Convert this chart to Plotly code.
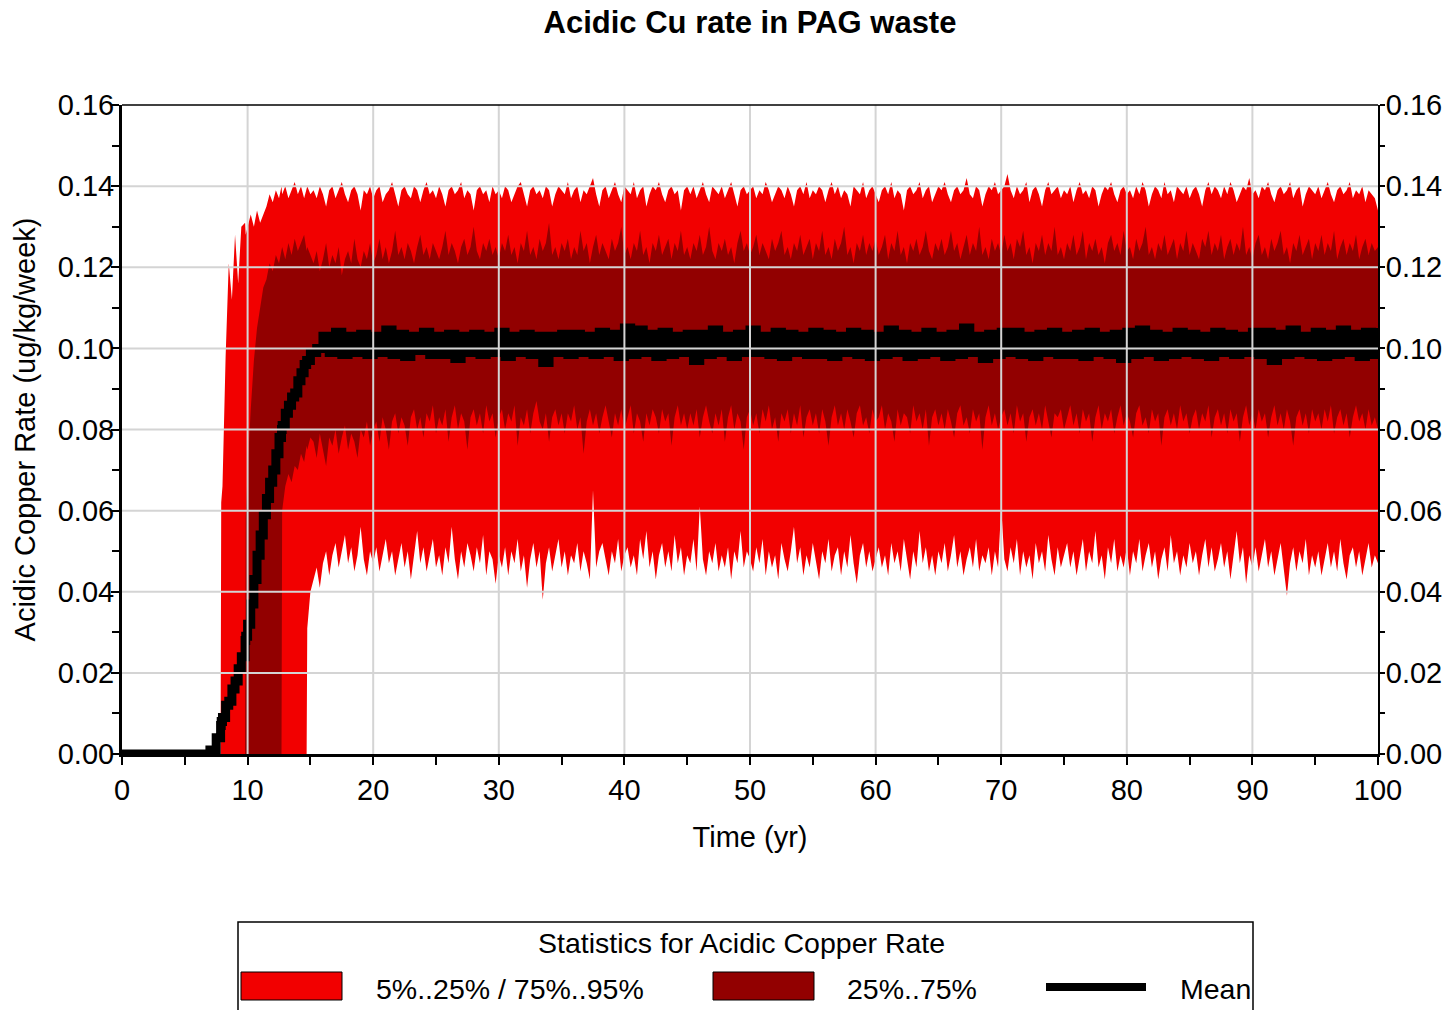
import plotly.graph_objects as go

# ---------------- text ----------------
TITLE = "Acidic Cu rate in PAG waste"
X_TITLE = "Time (yr)"
Y_TITLE = "Acidic Copper Rate (ug/kg/week)"
LEGEND_TITLE = "Statistics for Acidic Copper Rate"
LEGEND_LABELS = ["5%..25% / 75%..95%", "25%..75%", "Mean"]

X_TICKS = [0, 10, 20, 30, 40, 50, 60, 70, 80, 90, 100]
Y_TICKS = [0.00, 0.02, 0.04, 0.06, 0.08, 0.10, 0.12, 0.14, 0.16]

# ---------------- data: ramp-up period (0 - 15 yr) ----------------
TIME_EARLY = [0, 1, 2, 3, 4, 5, 6, 6.5, 7, 7.5, 7.85, 7.9, 8.0, 8.25, 8.5, 8.75,
              9.0, 9.25, 9.5, 9.8, 9.85, 10.0, 10.25, 10.5, 10.75, 11.0, 11.25,
              11.5, 11.75, 12.0, 12.25, 12.5, 12.7, 12.75, 13.0, 13.25, 13.5,
              13.75, 14.0, 14.25, 14.5, 14.7, 14.75, 15.0]

P95_EARLY = [0.0] * 11 + [0.062, 0.066, 0.098, 0.121, 0.112, 0.128, 0.116, 0.130, 0.131,
                          0.128, 0.130, 0.133, 0.130, 0.134, 0.131, 0.133, 0.135, 0.138,
                          0.136, 0.139, 0.137, 0.140, 0.138, 0.140, 0.137, 0.139, 0.141,
                          0.138, 0.140, 0.137, 0.139, 0.140, 0.138]
P75_EARLY = [0.0] * 20 + [0.058, 0.070, 0.085, 0.097, 0.105, 0.110, 0.115, 0.117, 0.121,
                          0.119, 0.123, 0.121, 0.124, 0.125, 0.122, 0.126, 0.123, 0.127,
                          0.124, 0.126, 0.128, 0.124, 0.125, 0.123]
MEAN_EARLY = [0.0] * 8 + [0.001, 0.004, 0.007, 0.008, 0.009, 0.012, 0.013, 0.016, 0.018,
                          0.021, 0.024, 0.028, 0.029, 0.032, 0.037, 0.043, 0.049, 0.054,
                          0.059, 0.063, 0.067, 0.070, 0.074, 0.078, 0.080, 0.081, 0.084,
                          0.086, 0.088, 0.089, 0.092, 0.094, 0.096, 0.097, 0.097, 0.099]
P25_EARLY = [0.0] * 33 + [0.060, 0.066, 0.069, 0.067, 0.071, 0.070, 0.074, 0.072, 0.076,
                          0.075, 0.078]
P5_EARLY = [0.0] * 42 + [0.031, 0.040]

# ---------------- data: steady period, percentile bands every 0.25 yr (15.25 - 100) ----------------
BAND_TIME_LATE = [15.25 + 0.25 * i for i in range(340)]

P95_LATE = [
    0.139, 0.137, 0.140, 0.138, 0.135, 0.139, 0.140, 0.137, 0.139, 0.141, 0.138, 0.136, 0.139, 0.140, 0.138, 0.134, 0.139, 0.138, 0.140, 0.137,
    0.139, 0.140, 0.136, 0.138, 0.139, 0.141, 0.138, 0.135, 0.139, 0.140, 0.138, 0.137, 0.140, 0.139, 0.136, 0.139, 0.141, 0.138, 0.139, 0.137,
    0.140, 0.138, 0.135, 0.139, 0.140, 0.138, 0.139, 0.141, 0.137, 0.139, 0.138, 0.134, 0.139, 0.140, 0.138, 0.139, 0.136, 0.140, 0.138, 0.139,
    0.137, 0.140, 0.139, 0.136, 0.138, 0.140, 0.141, 0.138, 0.135, 0.139, 0.140, 0.138, 0.139, 0.137, 0.140, 0.139, 0.135, 0.138, 0.140, 0.139,
    0.138, 0.141, 0.137, 0.139, 0.140, 0.136, 0.139, 0.138, 0.140, 0.142, 0.138, 0.135, 0.139, 0.140, 0.137, 0.139, 0.141, 0.138, 0.136, 0.140,
    0.139, 0.138, 0.141, 0.137, 0.139, 0.140, 0.135, 0.138, 0.140, 0.139, 0.141, 0.138, 0.136, 0.139, 0.140, 0.138, 0.139, 0.134, 0.139, 0.140,
    0.138, 0.140, 0.137, 0.139, 0.141, 0.138, 0.136, 0.140, 0.139, 0.138, 0.140, 0.137, 0.139, 0.141, 0.138, 0.135, 0.139, 0.140, 0.138, 0.139,
    0.140, 0.137, 0.139, 0.138, 0.141, 0.139, 0.136, 0.138, 0.140, 0.139, 0.137, 0.140, 0.138, 0.135, 0.139, 0.140, 0.138, 0.141, 0.137, 0.139,
    0.138, 0.140, 0.139, 0.136, 0.139, 0.141, 0.138, 0.140, 0.137, 0.139, 0.138, 0.135, 0.140, 0.139, 0.138, 0.141, 0.137, 0.139, 0.140, 0.138,
    0.136, 0.139, 0.140, 0.138, 0.141, 0.137, 0.139, 0.138, 0.134, 0.139, 0.140, 0.138, 0.139, 0.141, 0.137, 0.139, 0.140, 0.136, 0.138, 0.140,
    0.139, 0.141, 0.138, 0.136, 0.139, 0.140, 0.138, 0.139, 0.142, 0.138, 0.137, 0.140, 0.139, 0.135, 0.138, 0.140, 0.139, 0.141, 0.138, 0.139,
    0.140, 0.143, 0.139, 0.137, 0.140, 0.138, 0.139, 0.141, 0.136, 0.139, 0.140, 0.138, 0.135, 0.139, 0.141, 0.138, 0.139, 0.140, 0.137, 0.139,
    0.138, 0.140, 0.136, 0.139, 0.141, 0.138, 0.139, 0.137, 0.140, 0.139, 0.135, 0.138, 0.140, 0.139, 0.141, 0.138, 0.136, 0.139, 0.140, 0.138,
    0.139, 0.137, 0.140, 0.138, 0.141, 0.139, 0.135, 0.138, 0.140, 0.139, 0.137, 0.141, 0.138, 0.139, 0.136, 0.140, 0.139, 0.138, 0.140, 0.137,
    0.139, 0.140, 0.138, 0.135, 0.139, 0.141, 0.138, 0.140, 0.139, 0.137, 0.140, 0.138, 0.141, 0.139, 0.136, 0.138, 0.140, 0.139, 0.142, 0.138,
    0.139, 0.137, 0.140, 0.139, 0.141, 0.138, 0.136, 0.139, 0.140, 0.138, 0.139, 0.141, 0.137, 0.139, 0.140, 0.135, 0.138, 0.140, 0.139, 0.138,
    0.140, 0.137, 0.139, 0.141, 0.138, 0.136, 0.139, 0.140, 0.138, 0.139, 0.141, 0.137, 0.139, 0.138, 0.140, 0.136, 0.139, 0.138, 0.137, 0.134,
]
P75_LATE = [
    0.121, 0.124, 0.119, 0.122, 0.126, 0.120, 0.123, 0.121, 0.125, 0.118, 0.122, 0.124, 0.121, 0.127, 0.122, 0.120, 0.124, 0.122, 0.126, 0.121,
    0.123, 0.127, 0.122, 0.125, 0.121, 0.124, 0.129, 0.123, 0.125, 0.122, 0.126, 0.124, 0.121, 0.125, 0.128, 0.123, 0.125, 0.122, 0.126, 0.124,
    0.122, 0.125, 0.129, 0.123, 0.126, 0.124, 0.121, 0.125, 0.127, 0.123, 0.125, 0.130, 0.124, 0.122, 0.126, 0.124, 0.127, 0.123, 0.125, 0.122,
    0.126, 0.124, 0.128, 0.123, 0.125, 0.121, 0.126, 0.124, 0.129, 0.123, 0.125, 0.122, 0.127, 0.124, 0.126, 0.131, 0.123, 0.125, 0.122, 0.126,
    0.124, 0.127, 0.122, 0.125, 0.123, 0.129, 0.124, 0.126, 0.121, 0.125, 0.128, 0.123, 0.126, 0.124, 0.122, 0.127, 0.124, 0.126, 0.130, 0.123,
    0.125, 0.122, 0.126, 0.124, 0.129, 0.123, 0.125, 0.121, 0.126, 0.124, 0.128, 0.123, 0.125, 0.127, 0.122, 0.126, 0.124, 0.129, 0.123, 0.125,
    0.122, 0.126, 0.124, 0.128, 0.123, 0.125, 0.130, 0.124, 0.122, 0.126, 0.124, 0.127, 0.123, 0.125, 0.121, 0.126, 0.129, 0.124, 0.126, 0.123,
    0.125, 0.128, 0.123, 0.126, 0.124, 0.122, 0.127, 0.124, 0.126, 0.129, 0.123, 0.125, 0.122, 0.126, 0.124, 0.128, 0.123, 0.125, 0.127, 0.122,
    0.126, 0.124, 0.129, 0.123, 0.125, 0.122, 0.127, 0.124, 0.126, 0.130, 0.123, 0.125, 0.121, 0.126, 0.124, 0.128, 0.123, 0.126, 0.124, 0.127,
    0.123, 0.125, 0.128, 0.122, 0.126, 0.124, 0.129, 0.123, 0.125, 0.121, 0.126, 0.124, 0.127, 0.123, 0.125, 0.129, 0.124, 0.122, 0.126, 0.124,
    0.127, 0.123, 0.125, 0.129, 0.124, 0.126, 0.122, 0.125, 0.128, 0.123, 0.126, 0.124, 0.130, 0.123, 0.125, 0.122, 0.127, 0.124, 0.126, 0.123,
    0.128, 0.124, 0.126, 0.122, 0.127, 0.125, 0.129, 0.123, 0.125, 0.121, 0.126, 0.124, 0.128, 0.123, 0.126, 0.124, 0.130, 0.123, 0.125, 0.122,
    0.126, 0.124, 0.128, 0.123, 0.125, 0.129, 0.122, 0.126, 0.124, 0.127, 0.123, 0.125, 0.121, 0.126, 0.128, 0.124, 0.126, 0.123, 0.129, 0.124,
    0.125, 0.122, 0.127, 0.124, 0.126, 0.130, 0.123, 0.125, 0.122, 0.126, 0.124, 0.128, 0.123, 0.125, 0.127, 0.122, 0.126, 0.124, 0.129, 0.123,
    0.126, 0.124, 0.122, 0.127, 0.125, 0.129, 0.123, 0.126, 0.124, 0.128, 0.122, 0.125, 0.127, 0.123, 0.126, 0.124, 0.130, 0.123, 0.125, 0.122,
    0.126, 0.128, 0.123, 0.125, 0.122, 0.127, 0.124, 0.126, 0.129, 0.123, 0.125, 0.121, 0.126, 0.124, 0.128, 0.123, 0.125, 0.127, 0.122, 0.126,
    0.124, 0.128, 0.123, 0.126, 0.124, 0.129, 0.122, 0.125, 0.127, 0.123, 0.126, 0.124, 0.128, 0.122, 0.125, 0.127, 0.123, 0.126, 0.124, 0.125,
]
P25_LATE = [
    0.077, 0.073, 0.079, 0.075, 0.071, 0.078, 0.076, 0.080, 0.074, 0.078, 0.081, 0.075, 0.079, 0.077, 0.073, 0.080, 0.078, 0.082, 0.076, 0.080,
    0.082, 0.077, 0.083, 0.080, 0.075, 0.082, 0.084, 0.079, 0.083, 0.081, 0.076, 0.083, 0.085, 0.080, 0.083, 0.078, 0.084, 0.082, 0.086, 0.079,
    0.083, 0.081, 0.085, 0.077, 0.083, 0.086, 0.080, 0.084, 0.082, 0.075, 0.083, 0.085, 0.081, 0.084, 0.079, 0.086, 0.082, 0.084, 0.078, 0.083,
    0.085, 0.080, 0.084, 0.082, 0.086, 0.076, 0.083, 0.081, 0.085, 0.079, 0.084, 0.087, 0.082, 0.080, 0.084, 0.077, 0.083, 0.085, 0.081, 0.084,
    0.079, 0.084, 0.082, 0.086, 0.080, 0.083, 0.074, 0.082, 0.085, 0.081, 0.084, 0.079, 0.083, 0.086, 0.082, 0.078, 0.084, 0.081, 0.085, 0.080,
    0.083, 0.086, 0.079, 0.084, 0.082, 0.077, 0.084, 0.081, 0.085, 0.083, 0.079, 0.085, 0.082, 0.084, 0.076, 0.083, 0.086, 0.081, 0.084, 0.080,
    0.084, 0.081, 0.085, 0.078, 0.083, 0.086, 0.082, 0.079, 0.084, 0.081, 0.085, 0.077, 0.083, 0.086, 0.080, 0.084, 0.082, 0.075, 0.083, 0.085,
    0.081, 0.084, 0.079, 0.085, 0.082, 0.086, 0.080, 0.083, 0.077, 0.084, 0.082, 0.085, 0.079, 0.084, 0.081, 0.086, 0.078, 0.083, 0.085, 0.081,
    0.084, 0.079, 0.085, 0.082, 0.076, 0.083, 0.086, 0.081, 0.084, 0.080, 0.085, 0.082, 0.078, 0.084, 0.086, 0.081, 0.083, 0.079, 0.085, 0.082,
    0.083, 0.086, 0.080, 0.084, 0.082, 0.077, 0.085, 0.081, 0.084, 0.083, 0.079, 0.086, 0.082, 0.084, 0.080, 0.085, 0.076, 0.083, 0.085, 0.081,
    0.084, 0.080, 0.085, 0.082, 0.078, 0.084, 0.086, 0.081, 0.083, 0.079, 0.085, 0.082, 0.084, 0.075, 0.083, 0.086, 0.081, 0.084, 0.080, 0.083,
    0.085, 0.081, 0.084, 0.079, 0.086, 0.082, 0.084, 0.077, 0.083, 0.085, 0.081, 0.084, 0.080, 0.086, 0.082, 0.078, 0.084, 0.083, 0.085, 0.080,
    0.083, 0.086, 0.081, 0.084, 0.079, 0.085, 0.082, 0.084, 0.077, 0.083, 0.086, 0.080, 0.084, 0.082, 0.085, 0.079, 0.083, 0.086, 0.081, 0.084,
    0.082, 0.078, 0.084, 0.086, 0.081, 0.083, 0.079, 0.085, 0.082, 0.084, 0.076, 0.083, 0.085, 0.081, 0.084, 0.080, 0.086, 0.082, 0.084, 0.079,
    0.083, 0.085, 0.080, 0.084, 0.082, 0.086, 0.078, 0.083, 0.085, 0.081, 0.084, 0.079, 0.085, 0.082, 0.084, 0.077, 0.083, 0.086, 0.081, 0.084,
    0.080, 0.085, 0.082, 0.084, 0.078, 0.083, 0.086, 0.081, 0.084, 0.080, 0.085, 0.082, 0.076, 0.083, 0.085, 0.081, 0.084, 0.079, 0.085, 0.082,
    0.084, 0.080, 0.085, 0.082, 0.086, 0.079, 0.083, 0.085, 0.081, 0.084, 0.078, 0.083, 0.086, 0.082, 0.084, 0.080, 0.085, 0.081, 0.083, 0.080,
]
P5_LATE = [
    0.043, 0.046, 0.041, 0.047, 0.050, 0.044, 0.049, 0.052, 0.046, 0.050, 0.054, 0.047, 0.051, 0.045, 0.049, 0.056, 0.048, 0.044, 0.050, 0.047,
    0.051, 0.045, 0.049, 0.053, 0.047, 0.050, 0.044, 0.048, 0.052, 0.046, 0.050, 0.043, 0.049, 0.055, 0.047, 0.051, 0.045, 0.049, 0.053, 0.046,
    0.049, 0.044, 0.051, 0.047, 0.056, 0.048, 0.043, 0.050, 0.046, 0.052, 0.049, 0.045, 0.051, 0.047, 0.054, 0.044, 0.050, 0.048, 0.042, 0.049,
    0.046, 0.051, 0.044, 0.050, 0.047, 0.053, 0.045, 0.049, 0.041, 0.048, 0.052, 0.046, 0.050, 0.038, 0.047, 0.051, 0.045, 0.049, 0.053, 0.046,
    0.050, 0.044, 0.049, 0.047, 0.052, 0.045, 0.050, 0.047, 0.043, 0.065, 0.046, 0.050, 0.052, 0.048, 0.044, 0.050, 0.047, 0.053, 0.045, 0.049,
    0.051, 0.046, 0.049, 0.044, 0.053, 0.048, 0.055, 0.046, 0.050, 0.043, 0.049, 0.052, 0.046, 0.050, 0.045, 0.054, 0.047, 0.051, 0.044, 0.049,
    0.047, 0.053, 0.045, 0.061, 0.048, 0.044, 0.050, 0.047, 0.052, 0.045, 0.049, 0.046, 0.051, 0.043, 0.050, 0.047, 0.055, 0.046, 0.050, 0.048,
    0.045, 0.051, 0.047, 0.053, 0.044, 0.050, 0.046, 0.049, 0.043, 0.052, 0.048, 0.045, 0.050, 0.056, 0.047, 0.051, 0.044, 0.049, 0.046, 0.052,
    0.048, 0.043, 0.050, 0.047, 0.053, 0.045, 0.049, 0.051, 0.044, 0.050, 0.046, 0.054, 0.047, 0.042, 0.049, 0.052, 0.046, 0.050, 0.045, 0.048,
    0.051, 0.046, 0.049, 0.044, 0.052, 0.047, 0.050, 0.045, 0.053, 0.048, 0.043, 0.050, 0.046, 0.055, 0.047, 0.051, 0.045, 0.049, 0.044, 0.050,
    0.047, 0.052, 0.045, 0.049, 0.054, 0.046, 0.050, 0.044, 0.048, 0.051, 0.046, 0.053, 0.045, 0.049, 0.047, 0.051, 0.044, 0.050, 0.046, 0.061,
    0.048, 0.045, 0.051, 0.047, 0.053, 0.044, 0.050, 0.046, 0.049, 0.043, 0.052, 0.047, 0.050, 0.045, 0.054, 0.048, 0.044, 0.051, 0.046, 0.049,
    0.052, 0.046, 0.050, 0.044, 0.048, 0.053, 0.045, 0.050, 0.047, 0.055, 0.046, 0.049, 0.043, 0.051, 0.047, 0.053, 0.045, 0.049, 0.046, 0.051,
    0.044, 0.050, 0.047, 0.053, 0.045, 0.049, 0.052, 0.046, 0.050, 0.043, 0.048, 0.051, 0.045, 0.054, 0.047, 0.050, 0.044, 0.049, 0.046, 0.052,
    0.047, 0.050, 0.044, 0.049, 0.053, 0.046, 0.051, 0.045, 0.048, 0.052, 0.046, 0.050, 0.043, 0.049, 0.055, 0.047, 0.051, 0.042, 0.049, 0.046,
    0.051, 0.045, 0.049, 0.053, 0.046, 0.050, 0.044, 0.048, 0.052, 0.046, 0.039, 0.047, 0.051, 0.045, 0.050, 0.047, 0.053, 0.044, 0.049, 0.046,
    0.050, 0.044, 0.048, 0.052, 0.046, 0.050, 0.045, 0.053, 0.047, 0.043, 0.049, 0.051, 0.046, 0.050, 0.044, 0.048, 0.052, 0.046, 0.049, 0.047,
]

# ---------------- data: mean, every 0.5 yr (15.5 - 100) ----------------
MEAN_TIME_LATE = [15.5 + 0.5 * i for i in range(170)]
MEAN_LATE = [
    0.1000, 0.1030, 0.0990, 0.1040, 0.0985, 0.1030, 0.0990, 0.1035, 0.0985, 0.1030,
    0.0990, 0.1045, 0.0985, 0.1035, 0.0980, 0.1030, 0.0995, 0.1040, 0.0985, 0.1030,
    0.0985, 0.1035, 0.0975, 0.1030, 0.0990, 0.1035, 0.0985, 0.1030, 0.0990, 0.1040,
    0.0980, 0.1030, 0.0990, 0.1035, 0.0985, 0.1030, 0.0965, 0.1030, 0.0990, 0.1035,
    0.0985, 0.1035, 0.0990, 0.1030, 0.0985, 0.1040, 0.0990, 0.1035, 0.0980, 0.1050,
    0.0985, 0.1045, 0.0990, 0.1035, 0.0980, 0.1040, 0.0985, 0.1030, 0.0990, 0.1035,
    0.0970, 0.1035, 0.0985, 0.1045, 0.0990, 0.1030, 0.0980, 0.1035, 0.0990, 0.1045,
    0.0990, 0.1030, 0.0985, 0.1040, 0.0980, 0.1035, 0.0990, 0.1030, 0.0985, 0.1040,
    0.0985, 0.1035, 0.0980, 0.1030, 0.0990, 0.1040, 0.0985, 0.1035, 0.0980, 0.1030,
    0.0985, 0.1045, 0.0990, 0.1035, 0.0980, 0.1030, 0.0985, 0.1040, 0.0990, 0.1030,
    0.0980, 0.1035, 0.0985, 0.1050, 0.0990, 0.1030, 0.0975, 0.1035, 0.0985, 0.1040,
    0.0990, 0.1040, 0.0985, 0.1030, 0.0980, 0.1035, 0.0990, 0.1040, 0.0985, 0.1030,
    0.0985, 0.1035, 0.0980, 0.1040, 0.0990, 0.1030, 0.0985, 0.1035, 0.0975, 0.1040,
    0.0985, 0.1045, 0.0990, 0.1035, 0.0980, 0.1030, 0.0985, 0.1040, 0.0990, 0.1035,
    0.0985, 0.1030, 0.0980, 0.1040, 0.0990, 0.1035, 0.0985, 0.1030, 0.0990, 0.1040,
    0.0985, 0.1040, 0.0970, 0.1035, 0.0985, 0.1045, 0.0990, 0.1030, 0.0985, 0.1040,
    0.0980, 0.1035, 0.0985, 0.1045, 0.0990, 0.1035, 0.0980, 0.1040, 0.0985, 0.1050,
]

BAND_TIME = TIME_EARLY + BAND_TIME_LATE
P95 = P95_EARLY + P95_LATE
P75 = P75_EARLY + P75_LATE
P25 = P25_EARLY + P25_LATE
P5 = P5_EARLY + P5_LATE
MEAN_TIME = TIME_EARLY + MEAN_TIME_LATE
MEAN = MEAN_EARLY + MEAN_LATE

# ---------------- style ----------------
LIGHT_RED = "#F20000"
DARK_RED = "#920000"
GRID = "#D4D4D4"
FONT = "Liberation Sans, Arial, sans-serif"
W, H = 1448, 1010
ML, MR, MT, MB = 122, 70, 105, 256
PW, PH = W - ML - MR, H - MT - MB


def fx(px):
    return (px - ML) / PW


def fy(py):
    return (H - MB - py) / PH


fig = go.Figure()

# 5%..95% band
fig.add_trace(go.Scatter(
    x=BAND_TIME + BAND_TIME[::-1], y=P95 + P5[::-1], fill="toself", fillcolor=LIGHT_RED,
    mode="lines", line=dict(width=0, color=LIGHT_RED), hoverinfo="skip", showlegend=False))
# 25%..75% band
fig.add_trace(go.Scatter(
    x=BAND_TIME + BAND_TIME[::-1], y=P75 + P25[::-1], fill="toself", fillcolor=DARK_RED,
    mode="lines", line=dict(width=0, color=DARK_RED), hoverinfo="skip", showlegend=False))
# mean
fig.add_trace(go.Scatter(
    x=MEAN_TIME, y=MEAN, mode="lines", line=dict(color="black", width=9, shape="hv"),
    showlegend=False))
# invisible trace to activate right-hand axis
fig.add_trace(go.Scatter(
    x=MEAN_TIME, y=MEAN, yaxis="y2", mode="lines", line=dict(width=0), opacity=0,
    hoverinfo="skip", showlegend=False))

tick_font = dict(family=FONT, size=29, color="black")

yax = dict(
    range=[0, 0.16], tickmode="array", tickvals=Y_TICKS, tickformat=".2f",
    ticks="outside", ticklen=8, tickwidth=2, tickcolor="black",
    minor=dict(ticks="outside", dtick=0.01, tick0=0, ticklen=7, tickwidth=2, tickcolor="black"),
    showgrid=False, zeroline=False, showline=True, linecolor="black",
    tickfont=tick_font, fixedrange=True, automargin=False, ticklabelstandoff=-9,
)

shapes = []
for xv in X_TICKS[1:-1]:
    shapes.append(dict(type="line", xref="x", yref="paper", x0=xv, x1=xv, y0=0, y1=1,
                       line=dict(color=GRID, width=2), layer="above"))
for yv in Y_TICKS[1:-1]:
    shapes.append(dict(type="line", xref="paper", yref="y", x0=0, x1=1, y0=yv, y1=yv,
                       line=dict(color=GRID, width=2), layer="above"))
# top frame line
shapes.append(dict(type="line", xref="paper", yref="paper", x0=0, x1=1, y0=1, y1=1,
                   line=dict(color="black", width=1.5), layer="above"))

# legend box (drawn manually)
shapes.append(dict(type="rect", xref="paper", yref="paper", x0=fx(238), x1=fx(1253),
                   y0=fy(1015), y1=fy(922), line=dict(color="black", width=1.5),
                   fillcolor="white", layer="above"))
shapes.append(dict(type="rect", xref="paper", yref="paper", x0=fx(241), x1=fx(342),
                   y0=fy(1000), y1=fy(972), line=dict(color="black", width=1),
                   fillcolor=LIGHT_RED, layer="above"))
shapes.append(dict(type="rect", xref="paper", yref="paper", x0=fx(713), x1=fx(814),
                   y0=fy(1000), y1=fy(972), line=dict(color="black", width=1),
                   fillcolor=DARK_RED, layer="above"))
shapes.append(dict(type="line", xref="paper", yref="paper", x0=fx(1046), x1=fx(1146),
                   y0=fy(987), y1=fy(987), line=dict(color="black", width=8), layer="above"))

legend_font = dict(family=FONT, size=28.5, color="black")
annotations = [
    dict(text=LEGEND_TITLE, xref="paper", yref="paper", x=fx(741), y=fy(943),
         xanchor="center", yanchor="middle", showarrow=False, font=legend_font),
    dict(text=LEGEND_LABELS[0], xref="paper", yref="paper", x=fx(374), y=fy(989),
         xanchor="left", yanchor="middle", showarrow=False, font=legend_font),
    dict(text=LEGEND_LABELS[1], xref="paper", yref="paper", x=fx(845), y=fy(989),
         xanchor="left", yanchor="middle", showarrow=False, font=legend_font),
    dict(text=LEGEND_LABELS[2], xref="paper", yref="paper", x=fx(1178), y=fy(989),
         xanchor="left", yanchor="middle", showarrow=False, font=legend_font),
]

fig.update_layout(
    width=W, height=H,
    margin=dict(l=ML, r=MR, t=MT, b=MB, pad=0, autoexpand=False),
    paper_bgcolor="white", plot_bgcolor="white",
    showlegend=False,
    title=dict(text="<b>" + TITLE + "</b>", x=750 / W, xanchor="center",
               y=1 - 22 / H, yanchor="middle", yref="container",
               font=dict(family=FONT, size=31, color="black")),
    xaxis=dict(
        range=[0, 100], tickmode="array", tickvals=X_TICKS,
        ticks="outside", ticklen=8, tickwidth=2, tickcolor="black",
        minor=dict(ticks="outside", dtick=5, tick0=0, ticklen=8, tickwidth=2, tickcolor="black"),
        showgrid=False, zeroline=False, showline=True, linewidth=3, linecolor="black",
        tickfont=tick_font, fixedrange=True, automargin=False,
        title=dict(text=X_TITLE, font=dict(family=FONT, size=29, color="black"), standoff=22),
    ),
    yaxis=dict(yax, linewidth=3,
               title=dict(text=Y_TITLE, font=dict(family=FONT, size=29, color="black"), standoff=14)),
    yaxis2=dict(yax, overlaying="y", side="right", linewidth=2, anchor="x",
                ticklen=5, minor=dict(ticks="outside", dtick=0.01, tick0=0, ticklen=5,
                                      tickwidth=2, tickcolor="black"),
                ticklabelstandoff=-5),
    shapes=shapes,
    annotations=annotations,
)

fig.write_html("out.html")
